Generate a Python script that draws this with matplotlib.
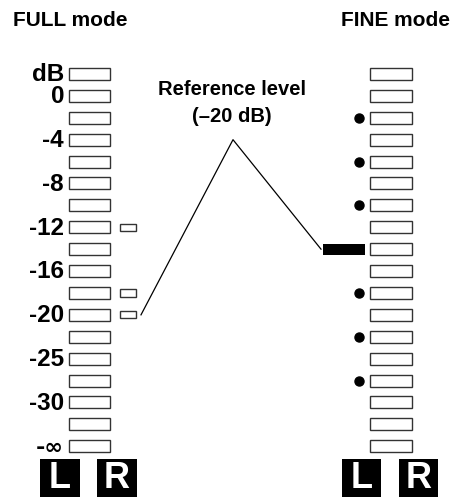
#!/usr/bin/env python

import matplotlib
matplotlib.use('Agg')
import matplotlib.pyplot as plt
from matplotlib.patches import Rectangle

plt.rcParams['font.family'] = ['Liberation Sans', 'DejaVu Sans']

# meter data: one entry per LED segment, top to bottom
n_segments   = 18
scale_labels = ['dB', '0', '', '-4', '', '-8', '', '-12', '', '-16', '',
                '-20', '', '-25', '', '-30', '', '-\u221e']
full_r_marks = [7, 10, 11]            # small lit marks beside FULL meter
fine_dots    = [2, 4, 6, 10, 12, 14]  # dots beside FINE meter
fine_ref     = 8                      # reference level segment in FINE mode
full_ref     = 11                     # -20 dB in FULL mode
channels     = ['L', 'R']

# layout (x in pixels, y in segment units)
W, H = 458, 497
seg_h = 0.55
full_x0, full_x1 = 69, 110
fine_x0, fine_x1 = 370, 412
mark_x0, mark_x1, mark_h = 120, 136, 0.33
bar_x0, bar_x1, bar_h = 323, 365, 0.49
dot_x = 359
chan_x = [(40, 80, 97, 137), (342, 381, 399, 438)]

fig = plt.figure(figsize=(W / 100, H / 100), dpi=100)
ax = fig.add_axes([0, 0, 1, 1])
ax.set_xlim(0, W)
ax.set_ylim(19.32, -3.38)
ax.axis('off')

def segment(x0, x1, y, h, **kw):
    ax.add_patch(Rectangle((x0, y - h / 2), x1 - x0, h, **kw))

for i in range(n_segments):
    segment(full_x0, full_x1, i, seg_h, fc='white', ec='#333333', lw=1.0)
    segment(fine_x0, fine_x1, i, seg_h, fc='white', ec='#333333', lw=1.0)
    lab = scale_labels[i]
    if lab:
        # the infinity sign is too thin in Liberation, use DejaVu for it
        fam = ['DejaVu Sans'] if '\u221e' in lab else None
        ax.text(64, i + 0.34, lab, ha='right', va='baseline',
                fontsize=17.5 if fam is None else 16, fontweight='bold',
                family=fam)

for i in full_r_marks:
    segment(mark_x0, mark_x1, i, mark_h, fc='white', ec='#333333', lw=1.0)

ax.plot([dot_x] * len(fine_dots), fine_dots, 'o', color='black', ms=6.5)
segment(bar_x0, bar_x1, fine_ref, bar_h, fc='black', ec='none')

# leader lines to the reference level label
apex = 3.0
ax.plot([mark_x1 + 5, 233, bar_x0 - 2], [full_ref, apex, fine_ref],
        color='black', lw=0.9)
ax.text(232, 0.96, 'Reference level', ha='center', va='baseline',
        fontsize=14.5, fontweight='bold')
ax.text(232, 2.18, '(\u201320 dB)', ha='center', va='baseline',
        fontsize=14.5, fontweight='bold')

ax.text(13, -2.19, 'FULL mode', ha='left', va='baseline',
        fontsize=15, fontweight='bold')
ax.text(450, -2.19, 'FINE mode', ha='right', va='baseline',
        fontsize=15, fontweight='bold')

# channel badges
for xs in chan_x:
    for k, ch in enumerate(channels):
        x0, x1 = xs[2 * k], xs[2 * k + 1]
        ax.add_patch(Rectangle((x0, 17.58), x1 - x0, 3, fc='black', ec='none'))
        ax.text((x0 + x1) / 2, 18.9, ch, ha='center', va='baseline',
                color='white', fontsize=26, fontweight='bold')

fig.savefig('out.png', dpi=100)
